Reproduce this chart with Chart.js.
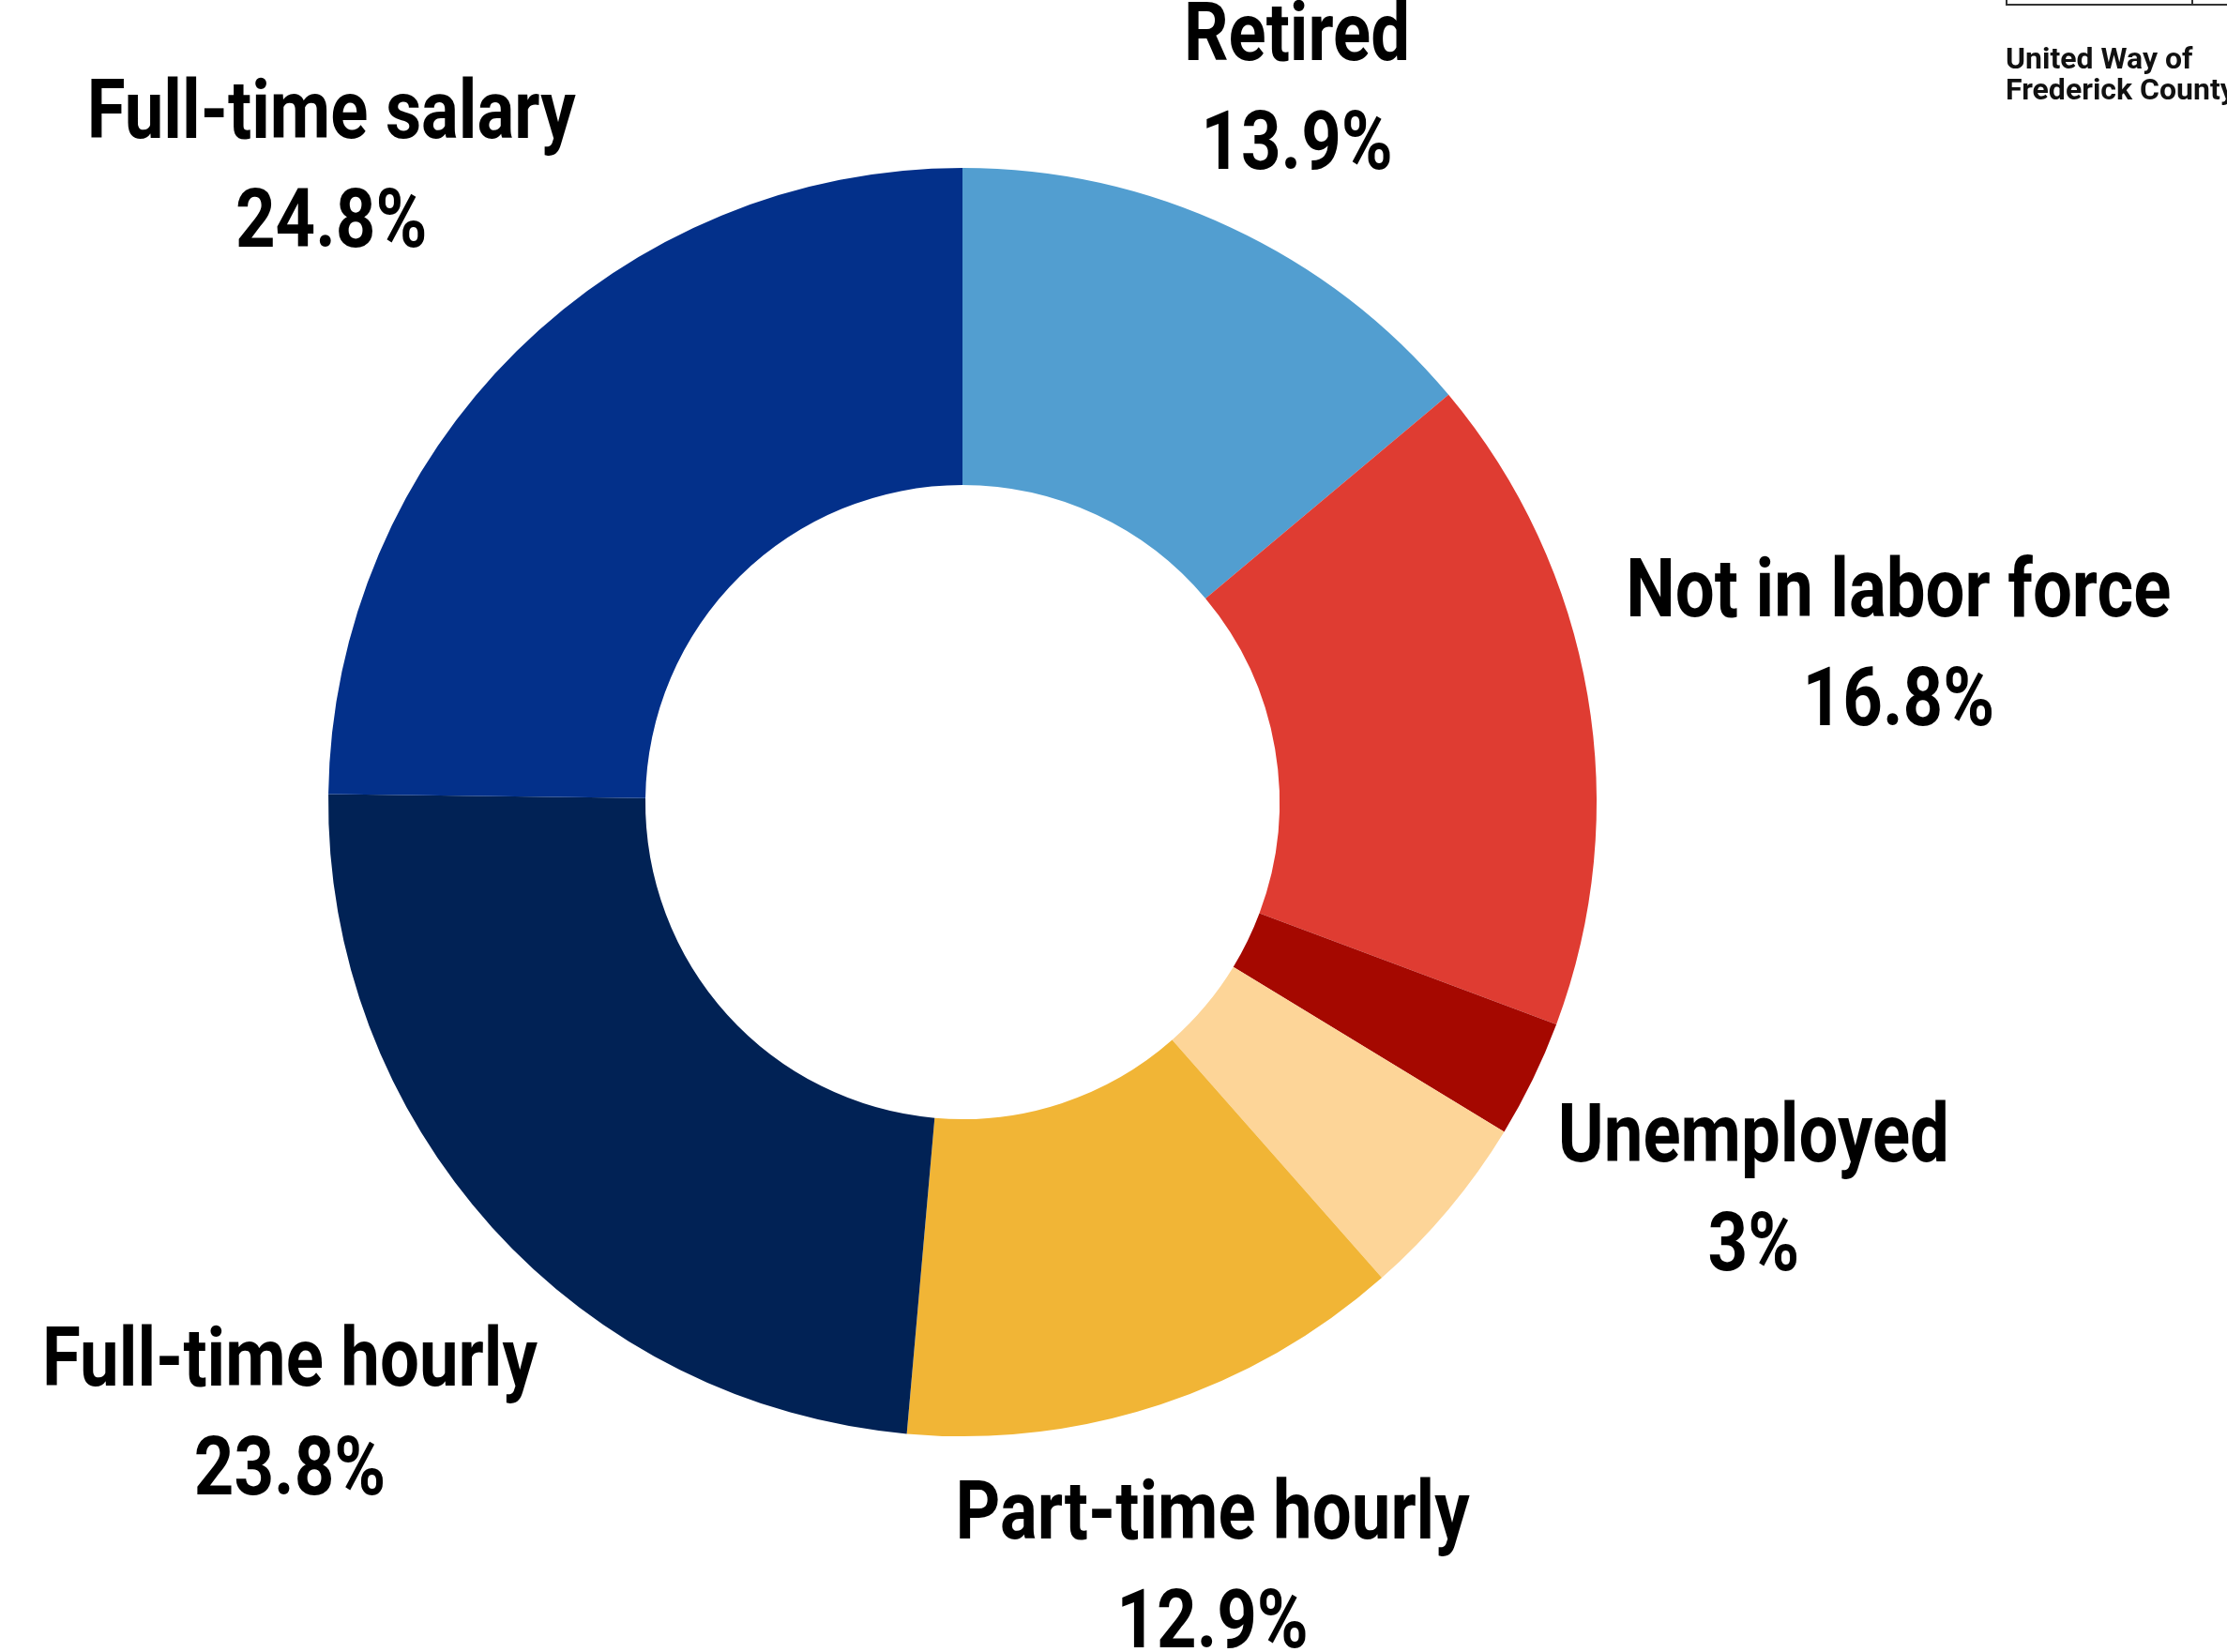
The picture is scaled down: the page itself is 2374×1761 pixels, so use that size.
<!DOCTYPE html>
<html>
<head>
<meta charset="utf-8">
<title>Employment status</title>
<script src="https://cdn.jsdelivr.net/npm/chart.js@4.4.1/dist/chart.umd.min.js"></script>
<style>
  html, body { margin: 0; padding: 0; background: #fff; }
  #wrap { position: relative; width: 2374px; height: 1761px; overflow: hidden; }
  #chart { position: absolute; left: 0; top: 0; }
  .logo-box {
    position: absolute; left: 2138px; top: -60px; width: 260px; height: 66px;
    border: 2px solid #333; box-sizing: border-box;
  }
  .logo-box .divider { position: absolute; left: 196px; top: 0; bottom: 0; border-left: 2px solid #333; }
  .logo-text {
    position: absolute; left: 2138px; top: 46px; white-space: nowrap;
    font: bold 32px Roboto, "Liberation Sans", sans-serif; line-height: 33px; color: #111;
  }
</style>
</head>
<body>
<div id="wrap">
  <canvas id="chart" width="2374" height="1761"></canvas>
  <div class="logo-box"><div class="divider"></div></div>
  <div class="logo-text">United Way of<br>Frederick County</div>
</div>
<script>
// slices go clockwise from 12 o'clock
const categories = ['Retired', 'Not in labor force', 'Unemployed', 'Other', 'Part-time hourly', 'Full-time hourly', 'Full-time salary'];
const shares = [13.9, 16.8, 3, 4.8, 12.9, 23.8, 24.8];
const sliceColors = ['#529ed0', '#df3c32', '#a50800', '#fdd598', '#f1b536', '#012255', '#03308a'];
// the small peach slice carries no label in the original
const labelledSlices = [true, true, true, false, true, true, true];

const FONT_SIZE = 88;
const CONDENSE = 0.845;  // Roboto squeezed to look like a condensed face
const LINE_GAP = 116;    // baseline to baseline
const LABEL_GAP = 35;    // space between ring and nearest edge of the label

// draws "name / value%" outside each slice, pushed out along the slice middle
const outsideLabels = {
    id: 'outsideLabels',
    afterDatasetsDraw(chart) {
        const ctx = chart.ctx;
        const arcs = chart.getDatasetMeta(0).data;
        const capH = FONT_SIZE * 0.711;
        const h = capH + LINE_GAP;

        ctx.save();
        ctx.font = `bold ${FONT_SIZE}px Roboto`;
        ctx.fillStyle = '#000';
        ctx.textAlign = 'center';
        ctx.textBaseline = 'alphabetic';

        arcs.forEach((arc, i) => {
            if (!labelledSlices[i]) return;
            const p = arc.getProps(['x', 'y', 'startAngle', 'endAngle', 'outerRadius'], true);
            const mid = (p.startAngle + p.endAngle) / 2;
            const dx = Math.cos(mid), dy = Math.sin(mid);
            const lines = [categories[i], shares[i] + '%'];
            const w = Math.max(...lines.map(t => ctx.measureText(t).width)) * CONDENSE;

            const reach = Math.abs(dx) * w / 2 + Math.abs(dy) * h / 2;
            let d = p.outerRadius + LABEL_GAP + reach;
            // pull the bottom label back in along its ray so it stays on the canvas
            const lowest = chart.height - 5;
            if (dy > 0 && p.y + dy * d + h / 2 > lowest) d = (lowest - h / 2 - p.y) / dy;
            const cx = p.x + dx * d;
            const cy = p.y + dy * d;

            lines.forEach((t, k) => {
                ctx.save();
                ctx.translate(cx, cy - h / 2 + capH + k * LINE_GAP);
                ctx.scale(CONDENSE, 1);
                ctx.fillText(t, 0, 0);
                ctx.restore();
            });
        });
        ctx.restore();
    }
};

new Chart(document.getElementById('chart'), {
    type: 'doughnut',
    data: {
        labels: categories,
        datasets: [{
            data: shares,
            backgroundColor: sliceColors,
            borderWidth: 0,
            hoverBorderWidth: 0,
            hoverOffset: 0
        }]
    },
    options: {
        responsive: false,
        animation: false,
        cutout: '50%',
        layout: { padding: { left: 350, right: 672, top: 179, bottom: 230 } },
        plugins: {
            legend: { display: false },
            tooltip: { enabled: false }
        }
    },
    plugins: [outsideLabels]
});
</script>
</body>
</html>
